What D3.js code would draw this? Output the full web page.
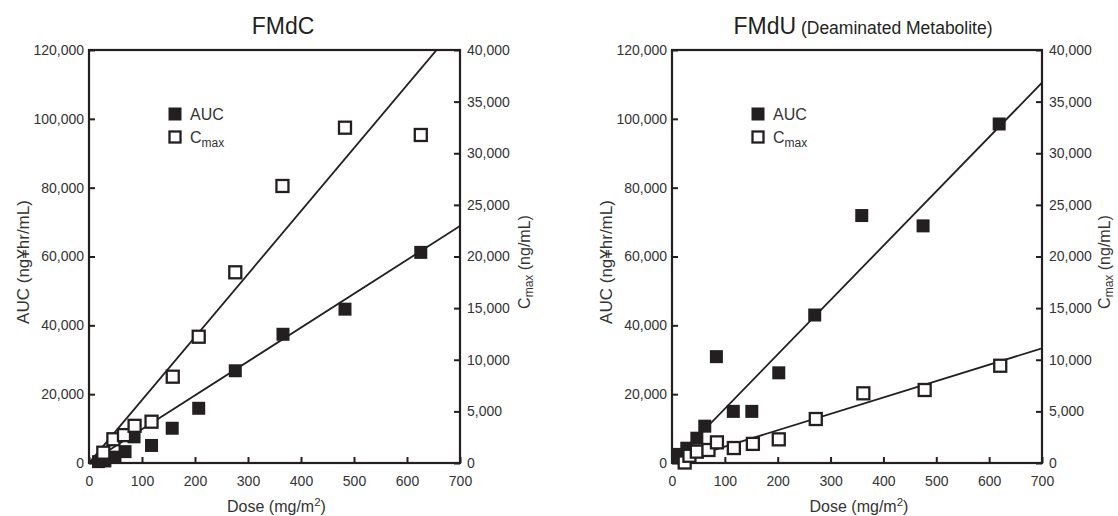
<!DOCTYPE html>
<html>
<head>
<meta charset="utf-8">
<script src="https://cdn.jsdelivr.net/npm/d3@7"></script>
<style>
  html, body { margin: 0; padding: 0; background: #ffffff; }
  svg { display: block; font-family: "Liberation Sans", Arial, Helvetica, sans-serif; }
</style>
</head>
<body>
<svg id="chart" width="1118" height="516"></svg>
<script>
// ---------- data ----------
const doseTicks = [0, 100, 200, 300, 400, 500, 600, 700];
const aucTicks = [0, 20000, 40000, 60000, 80000, 100000, 120000];
const cmaxTicks = [0, 5000, 10000, 15000, 20000, 25000, 30000, 35000, 40000];

// FMdC
const fmdcAucDose = [18, 30, 49, 68, 85, 118, 157, 207, 276, 366, 483, 626];
const fmdcAuc     = [400, 600, 1700, 3300, 7600, 5100, 10100, 15900, 26800, 37400, 44700, 61200];
const fmdcCmaxDose = [27, 46, 66, 86, 118, 158, 207, 276, 365, 483, 626];
const fmdcCmax     = [1000, 2300, 2700, 3600, 4000, 8360, 12230, 18470, 26830, 32475, 31770];
const fmdcAucFit  = [[0, 0], [700, 68860]];
const fmdcCmaxFit = [[0, 0], [700, 42700]];

// FMdU (Deaminated Metabolite)
const fmduAucDose = [14, 28, 47, 62, 84, 116, 151, 202, 270, 359, 475, 619];
const fmduAuc     = [2500, 4300, 7200, 10700, 30900, 15000, 15000, 26200, 43000, 71900, 68900, 98500];
const fmduCmaxDose = [24, 33, 47, 69, 85, 117, 153, 202, 272, 362, 478, 621];
const fmduCmax     = [50, 700, 1100, 1260, 2000, 1450, 1850, 2290, 4260, 6750, 7070, 9420];
const fmduAucFit  = [[0, 0], [700, 110500]];
const fmduCmaxFit = [[0, 0], [700, 11110]];

const legendLabels = ["AUC", "C", "max"];

// ---------- drawing ----------
const svg = d3.select("#chart");
const ink = "#231f20";
const fmt = d3.format(",");

const panels = [
  { id: "fmdc", x0: 89, x1: 460, title: "FMdC", sub: null, titleX: 283, rOff: 70,
    aucDose: fmdcAucDose, auc: fmdcAuc, cmaxDose: fmdcCmaxDose, cmax: fmdcCmax,
    aucFit: fmdcAucFit, cmaxFit: fmdcCmaxFit },
  { id: "fmdu", x0: 672, x1: 1042, title: "FMdU", sub: " (Deaminated Metabolite)", titleX: 863, rOff: 68,
    aucDose: fmduAucDose, auc: fmduAuc, cmaxDose: fmduCmaxDose, cmax: fmduCmax,
    aucFit: fmduAucFit, cmaxFit: fmduCmaxFit }
];

const yTop = 50, yBot = 463;
const M = 13; // marker size

panels.forEach(p => {
  const x = d3.scaleLinear().domain([0, 700]).range([p.x0, p.x1]);
  const yA = d3.scaleLinear().domain([0, 120000]).range([yBot, yTop]);
  const yC = d3.scaleLinear().domain([0, 40000]).range([yBot, yTop]);
  const g = svg.append("g");

  svg.append("clipPath").attr("id", "clip-" + p.id)
    .append("rect").attr("x", p.x0).attr("y", yTop).attr("width", p.x1 - p.x0).attr("height", yBot - yTop);

  // axes (ticks inward)
  const axB = g.append("g").attr("transform", `translate(0,${yBot})`)
    .call(d3.axisBottom(x).tickValues(doseTicks).tickSizeInner(-6).tickSizeOuter(0).tickPadding(13).tickFormat(d3.format("d")));
  const axL = g.append("g").attr("transform", `translate(${p.x0},0)`)
    .call(d3.axisLeft(yA).tickValues(aucTicks).tickSizeInner(-6).tickSizeOuter(0).tickPadding(5).tickFormat(fmt));
  const axR = g.append("g").attr("transform", `translate(${p.x1},0)`)
    .call(d3.axisRight(yC).tickValues(cmaxTicks).tickSizeInner(-6).tickSizeOuter(0).tickPadding(7).tickFormat(fmt));
  [axB, axL, axR].forEach(a => {
    a.select(".domain").remove();
    a.selectAll(".tick line").attr("stroke", ink).attr("stroke-width", 2);
    a.selectAll(".tick text").attr("fill", "#333").style("font-size", "14px").style("font-family", "Liberation Sans, Arial, sans-serif");
  });

  // frame
  g.append("rect").attr("x", p.x0).attr("y", yTop).attr("width", p.x1 - p.x0).attr("height", yBot - yTop)
    .attr("fill", "none").attr("stroke", ink).attr("stroke-width", 2.2);

  // fit lines
  const lineA = d3.line().x(d => x(d[0])).y(d => yA(d[1]));
  const lineC = d3.line().x(d => x(d[0])).y(d => yC(d[1]));
  const lg = g.append("g").attr("clip-path", `url(#clip-${p.id})`);
  lg.append("path").attr("d", lineA(p.aucFit)).attr("fill", "none").attr("stroke", ink).attr("stroke-width", 1.8);
  lg.append("path").attr("d", lineC(p.cmaxFit)).attr("fill", "none").attr("stroke", ink).attr("stroke-width", 1.8);

  // markers
  g.append("g").selectAll("rect").data(p.aucDose.map((d, i) => [d, p.auc[i]])).join("rect")
    .attr("x", d => x(d[0]) - M / 2).attr("y", d => yA(d[1]) - M / 2)
    .attr("width", M).attr("height", M).attr("fill", ink);
  g.append("g").selectAll("rect").data(p.cmaxDose.map((d, i) => [d, p.cmax[i]])).join("rect")
    .attr("x", d => x(d[0]) - 6).attr("y", d => yC(d[1]) - 6)
    .attr("width", 12).attr("height", 12).attr("fill", "#fff").attr("stroke", ink).attr("stroke-width", 2.3);

  // legend
  const lx = p.x0 + 86, ly1 = 114, ly2 = 137;
  g.append("rect").attr("x", lx - 6.5).attr("y", ly1 - 6.5).attr("width", 13).attr("height", 13).attr("fill", ink);
  g.append("text").attr("x", lx + 15).attr("y", ly1 + 6).attr("fill", "#333").style("font-size", "16px").text(legendLabels[0]);
  g.append("rect").attr("x", lx - 5.5).attr("y", ly2 - 5.5).attr("width", 11).attr("height", 11)
    .attr("fill", "#fff").attr("stroke", ink).attr("stroke-width", 2.3);
  const lt = g.append("text").attr("x", lx + 15).attr("y", ly2 + 6).attr("fill", "#333").style("font-size", "16px");
  lt.append("tspan").text(legendLabels[1]);
  lt.append("tspan").attr("dy", 4).style("font-size", "12px").text(legendLabels[2]);

  // title
  const tt = svg.append("text").attr("x", p.titleX).attr("y", 34).attr("text-anchor", "middle").attr("fill", "#231f20");
  tt.append("tspan").style("font-size", "23px").text(p.title);
  if (p.sub) tt.append("tspan").style("font-size", "17.5px").text(p.sub);

  // x title
  const xt = svg.append("text").attr("x", (p.x0 + p.x1) / 2 + 2).attr("y", 512).attr("text-anchor", "middle")
    .attr("fill", "#333").style("font-size", "16px");
  xt.append("tspan").text("Dose (mg/m");
  xt.append("tspan").attr("dy", -6).style("font-size", "11.5px").text("2");
  xt.append("tspan").attr("dy", 6).text(")");

  // left y title
  svg.append("text").attr("transform", `translate(${p.x0 - 60},262) rotate(-90)`).attr("text-anchor", "middle")
    .attr("fill", "#333").style("font-size", "17px").text("AUC (ng¥hr/mL)");

  // right y title
  const rt = svg.append("text").attr("transform", `translate(${p.x1 + p.rOff},262) rotate(-90)`).attr("text-anchor", "middle")
    .attr("fill", "#333").style("font-size", "16px");
  rt.append("tspan").text("C");
  rt.append("tspan").attr("dy", 3).style("font-size", "12px").text("max");
  rt.append("tspan").attr("dy", -3).text(" (ng/mL)");
});
</script>
</body>
</html>
